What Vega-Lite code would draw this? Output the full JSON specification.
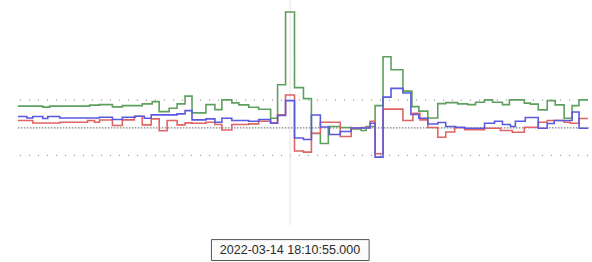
{
  "$schema": "https://vega.github.io/schema/vega-lite/v6.json",
  "width": 592,
  "height": 262,
  "autosize": {"type": "fit", "contains": "padding"},
  "padding": 0,
  "background": "white",
  "config": {"view": {"stroke": null}},
  "datasets": {
    "green": [
      {"t":18,"v":21.8},{"t":43,"v":20.8},{"t":50,"v":21.8},{"t":90,"v":22.8},{"t":100,"v":23.3},{"t":113,"v":21.0},{"t":123,"v":22.3},{"t":143,"v":24.0},{"t":153,"v":26.3},{"t":160,"v":16.3},{"t":170,"v":19.6},{"t":178,"v":24.0},{"t":186,"v":31.8},{"t":193,"v":15.0},{"t":207,"v":23.3},{"t":216,"v":18.3},{"t":223,"v":28.0},{"t":233,"v":25.0},{"t":240,"v":23.0},{"t":250,"v":20.6},{"t":260,"v":18.6},{"t":272,"v":9.6},{"t":279,"v":43.3},{"t":287,"v":116.3},{"t":296,"v":40.3},{"t":305,"v":29.3},{"t":313,"v":-5.7},{"t":322,"v":-15.7},{"t":330,"v":1.3},{"t":342,"v":0.3},{"t":353,"v":-1.2},{"t":363,"v":-2.7},{"t":368,"v":1.3},{"t":377,"v":22.3},{"t":385,"v":71.3},{"t":393,"v":58.3},{"t":405,"v":36.8},{"t":414,"v":21.3},{"t":421,"v":16.8},{"t":430,"v":9.8},{"t":440,"v":24.3},{"t":448,"v":25.3},{"t":460,"v":24.0},{"t":470,"v":23.3},{"t":478,"v":25.6},{"t":487,"v":28.0},{"t":495,"v":25.6},{"t":505,"v":23.3},{"t":512,"v":28.0},{"t":527,"v":24.8},{"t":533,"v":23.8},{"t":541,"v":18.0},{"t":550,"v":27.3},{"t":558,"v":23.0},{"t":567,"v":9.6},{"t":575,"v":22.3},{"t":582,"v":28.0},{"t":591,"v":28.0}
    ],
    "blue": [
      {"t":18,"v":11.3},{"t":27,"v":9.8},{"t":33,"v":11.3},{"t":43,"v":9.3},{"t":48,"v":11.3},{"t":60,"v":9.8},{"t":100,"v":10.6},{"t":113,"v":8.3},{"t":123,"v":10.6},{"t":136,"v":11.6},{"t":145,"v":9.6},{"t":152,"v":13.0},{"t":178,"v":14.0},{"t":186,"v":17.3},{"t":193,"v":8.0},{"t":207,"v":9.0},{"t":216,"v":5.6},{"t":223,"v":9.6},{"t":233,"v":7.3},{"t":250,"v":6.6},{"t":260,"v":8.3},{"t":272,"v":4.6},{"t":279,"v":12.3},{"t":287,"v":27.3},{"t":296,"v":-10.2},{"t":305,"v":-11.7},{"t":313,"v":12.8},{"t":322,"v":0.8},{"t":331,"v":-6.7},{"t":342,"v":-3.7},{"t":353,"v":-0.2},{"t":372,"v":4.6},{"t":377,"v":-29.4},{"t":385,"v":30.8},{"t":393,"v":39.6},{"t":405,"v":35.0},{"t":413,"v":13.3},{"t":421,"v":9.6},{"t":430,"v":3.8},{"t":440,"v":5.3},{"t":448,"v":1.3},{"t":458,"v":0.6},{"t":467,"v":-0.4},{"t":487,"v":4.6},{"t":497,"v":6.6},{"t":505,"v":3.3},{"t":513,"v":1.3},{"t":518,"v":6.6},{"t":528,"v":10.3},{"t":541,"v":-0.4},{"t":550,"v":4.3},{"t":557,"v":7.3},{"t":575,"v":15.8},{"t":582,"v":-0.4},{"t":591,"v":-0.4}
    ],
    "red": [
      {"t":18,"v":7.3},{"t":33,"v":4.8},{"t":60,"v":5.6},{"t":88,"v":7.3},{"t":95,"v":5.6},{"t":100,"v":7.8},{"t":113,"v":2.3},{"t":123,"v":8.0},{"t":135,"v":11.6},{"t":143,"v":3.0},{"t":152,"v":9.0},{"t":160,"v":-3.0},{"t":168,"v":7.3},{"t":178,"v":3.0},{"t":186,"v":5.0},{"t":193,"v":4.6},{"t":207,"v":5.6},{"t":216,"v":3.3},{"t":223,"v":-2.2},{"t":233,"v":3.3},{"t":250,"v":4.0},{"t":260,"v":6.6},{"t":272,"v":5.0},{"t":279,"v":13.0},{"t":287,"v":33.0},{"t":296,"v":-23.2},{"t":305,"v":-24.4},{"t":313,"v":-5.4},{"t":322,"v":5.6},{"t":342,"v":-8.7},{"t":353,"v":-0.4},{"t":363,"v":0.3},{"t":372,"v":6.6},{"t":377,"v":-26.0},{"t":385,"v":18.8},{"t":405,"v":7.3},{"t":415,"v":14.6},{"t":422,"v":8.0},{"t":430,"v":0.3},{"t":440,"v":-9.4},{"t":448,"v":-4.2},{"t":457,"v":0.0},{"t":467,"v":-2.0},{"t":487,"v":-0.4},{"t":503,"v":-2.7},{"t":515,"v":-4.4},{"t":527,"v":0.6},{"t":541,"v":5.6},{"t":550,"v":7.3},{"t":567,"v":5.6},{"t":573,"v":4.6},{"t":582,"v":9.3},{"t":591,"v":9.3}
    ],
    "grid": [
      {"level": 27.8, "kind": "sparse"},
      {"level": -27.7, "kind": "sparse"}
    ],
    "tip": [
      {"t": 291.5, "label": "2022-03-14 18:10:55.000"}
    ]
  },
  "layer": [
    {
      "data": {"name": "grid"},
      "mark": {"type": "rule", "color": "#a0a0a0", "strokeWidth": 1.2, "strokeDash": [1.2, 7.8]},
      "encoding": {
        "y": {"field": "level", "type": "quantitative", "scale": {"domain": [-134.7, 127.3], "nice": false, "zero": false}, "axis": null},
        "x": {"datum": 20, "type": "quantitative", "scale": {"domain": [0, 592], "nice": false, "zero": false}, "axis": null},
        "x2": {"datum": 592}
      }
    },
    {
      "data": {"name": "tip"},
      "mark": {"type": "rule", "color": "#808080", "strokeWidth": 1.2, "strokeDash": [1.5, 1.5]},
      "encoding": {
        "y": {"datum": 0, "type": "quantitative"},
        "x": {"datum": 18, "type": "quantitative"},
        "x2": {"datum": 592}
      }
    },
    {
      "data": {"name": "tip"},
      "mark": {"type": "rule", "color": "#e4e4e4", "strokeWidth": 1},
      "encoding": {
        "x": {"field": "t", "type": "quantitative"},
        "y": {"datum": 127.3, "type": "quantitative"},
        "y2": {"datum": -97.7}
      }
    },
    {
      "data": {"name": "green"},
      "mark": {"type": "line", "interpolate": "step-after", "color": "#5fa05f", "strokeWidth": 1.6},
      "encoding": {
        "x": {"field": "t", "type": "quantitative"},
        "y": {"field": "v", "type": "quantitative"}
      }
    },
    {
      "data": {"name": "red"},
      "mark": {"type": "line", "interpolate": "step-after", "color": "#e06464", "strokeWidth": 1.6},
      "encoding": {
        "x": {"field": "t", "type": "quantitative"},
        "y": {"field": "v", "type": "quantitative"}
      }
    },
    {
      "data": {"name": "blue"},
      "mark": {"type": "line", "interpolate": "step-after", "color": "#5a5ae0", "strokeWidth": 1.6},
      "encoding": {
        "x": {"field": "t", "type": "quantitative"},
        "y": {"field": "v", "type": "quantitative"}
      }
    },
    {
      "data": {"name": "tip"},
      "mark": {"type": "rect", "fill": "#fbfbfb", "stroke": "#555", "strokeWidth": 1},
      "encoding": {
        "x": {"datum": 212.5, "type": "quantitative"},
        "x2": {"datum": 371},
        "y": {"datum": -112.2, "type": "quantitative"},
        "y2": {"datum": -133.2}
      }
    },
    {
      "data": {"name": "tip"},
      "mark": {"type": "text", "font": "Liberation Sans", "fontSize": 12.5, "color": "#2a2a2a", "align": "center", "baseline": "middle"},
      "encoding": {
        "x": {"field": "t", "type": "quantitative"},
        "y": {"datum": -122.7, "type": "quantitative"},
        "text": {"field": "label"}
      }
    }
  ]
}
